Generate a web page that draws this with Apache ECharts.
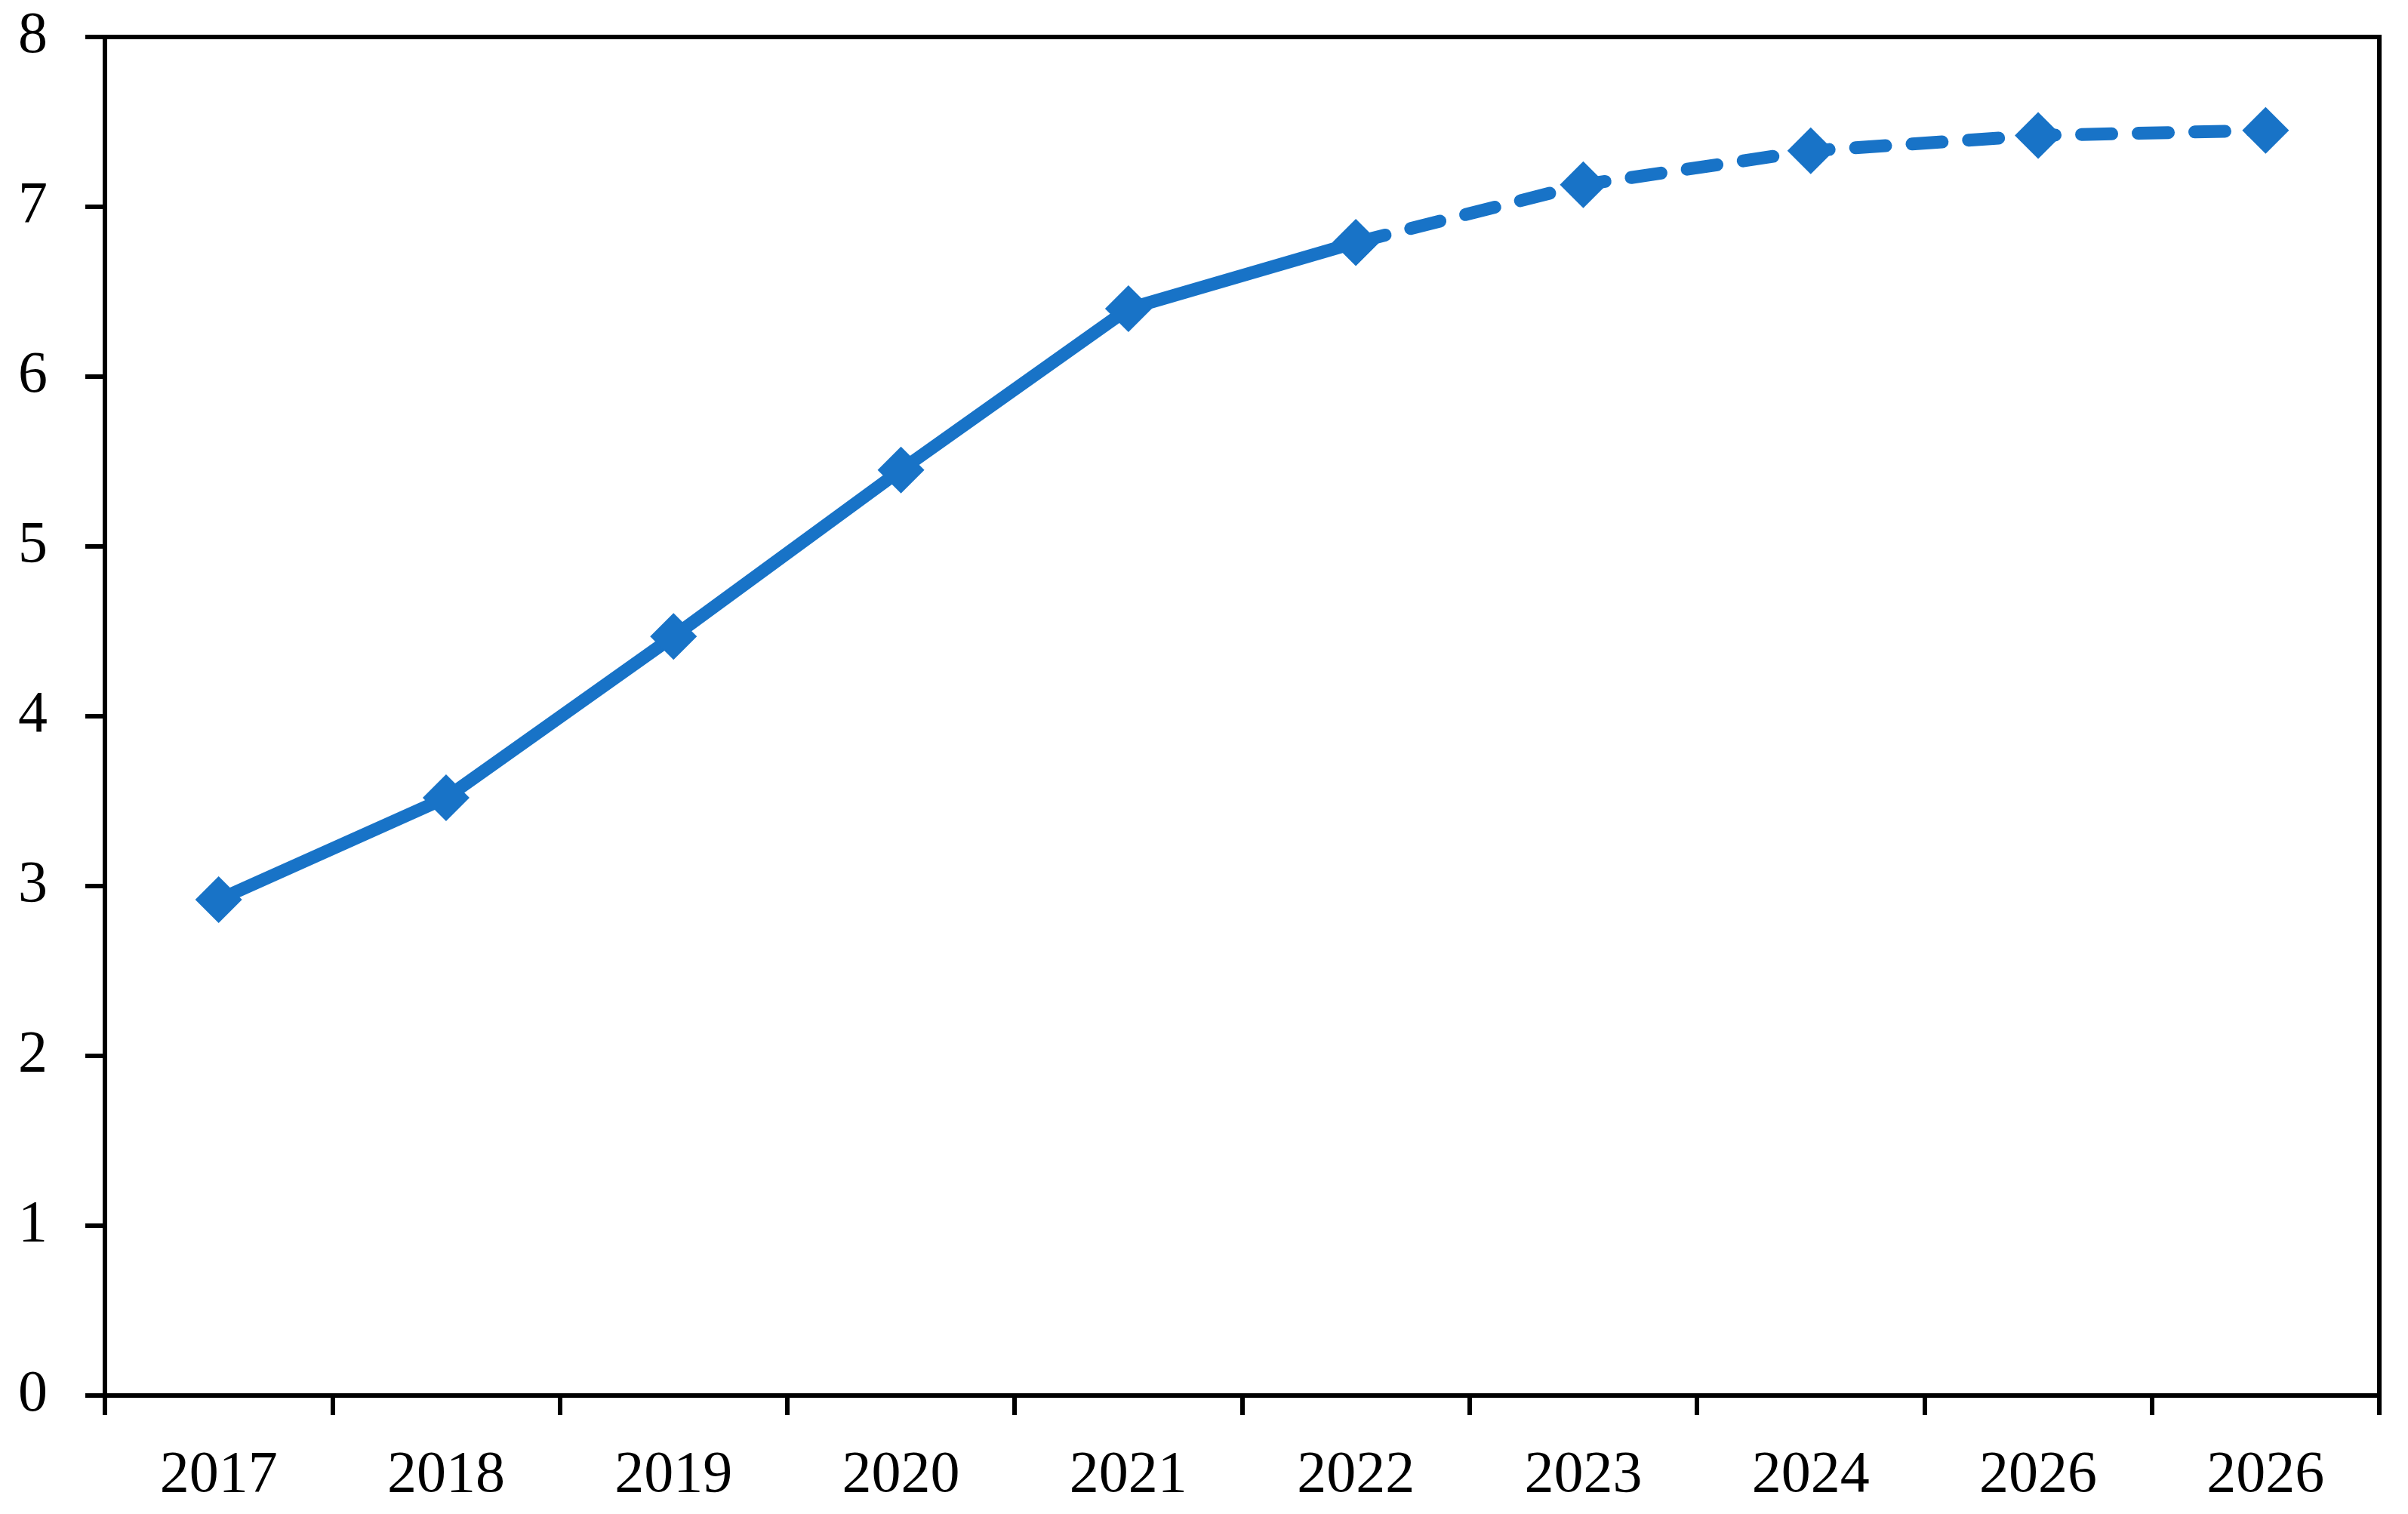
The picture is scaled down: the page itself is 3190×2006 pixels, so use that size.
<!DOCTYPE html>
<html>
<head>
<meta charset="utf-8">
<script src="https://cdn.jsdelivr.net/npm/echarts@6/dist/echarts.min.js"></script>
<style>
  html, body { margin: 0; padding: 0; background: #fff; }
  #chart { width: 3190px; height: 2006px; }
</style>
</head>
<body>
<div id="chart"></div>
<script>
// years on the category axis (the source repeats 2026)
const years = ['2017', '2018', '2019', '2020', '2021', '2022', '2023', '2024', '2026', '2026'];
// actual values up to 2022, projection after it
const actual = [2.92, 3.52, 4.47, 5.45, 6.40, 6.79, null, null, null, null];
const projected = [null, null, null, null, null, 6.79, 7.13, 7.33, 7.42, 7.45];
const yTicks = [0, 1, 2, 3, 4, 5, 6, 7, 8];

const blue = '#1873c7';
const font = 'Liberation Serif';

const chart = echarts.init(document.getElementById('chart'));

const lineSeries = (data, type) => ({
  type: 'line',
  data: data,
  connectNulls: false,
  symbol: 'diamond',
  symbolSize: 62,
  itemStyle: { color: blue },
  lineStyle: { color: blue, width: 17, type: type, cap: 'round', join: 'round' },
  emphasis: { disabled: true }
});

chart.setOption({
  animation: false,
  backgroundColor: '#fff',
  grid: {
    left: 139, right: 38, top: 49, bottom: 157,
    show: true, borderColor: '#000', borderWidth: 6
  },
  xAxis: {
    type: 'category',
    data: years,
    boundaryGap: true,
    axisLine: { lineStyle: { color: '#000', width: 6 } },
    axisTick: { show: true, length: 26, interval: 0, lineStyle: { color: '#000', width: 6 } },
    axisLabel: { interval: 0, margin: 68, color: '#000', fontFamily: font, fontSize: 78 },
    splitLine: { show: false }
  },
  yAxis: {
    type: 'value',
    min: yTicks[0],
    max: yTicks[yTicks.length - 1],
    interval: 1,
    axisLine: { show: true, lineStyle: { color: '#000', width: 6 } },
    axisTick: { show: true, length: 26, lineStyle: { color: '#000', width: 6 } },
    axisLabel: { margin: 76, color: '#000', fontFamily: font, fontSize: 78 },
    splitLine: { show: false }
  },
  series: [
    lineSeries(actual, 'solid'),
    lineSeries(projected, [40, 35])
  ]
});
</script>
</body>
</html>
